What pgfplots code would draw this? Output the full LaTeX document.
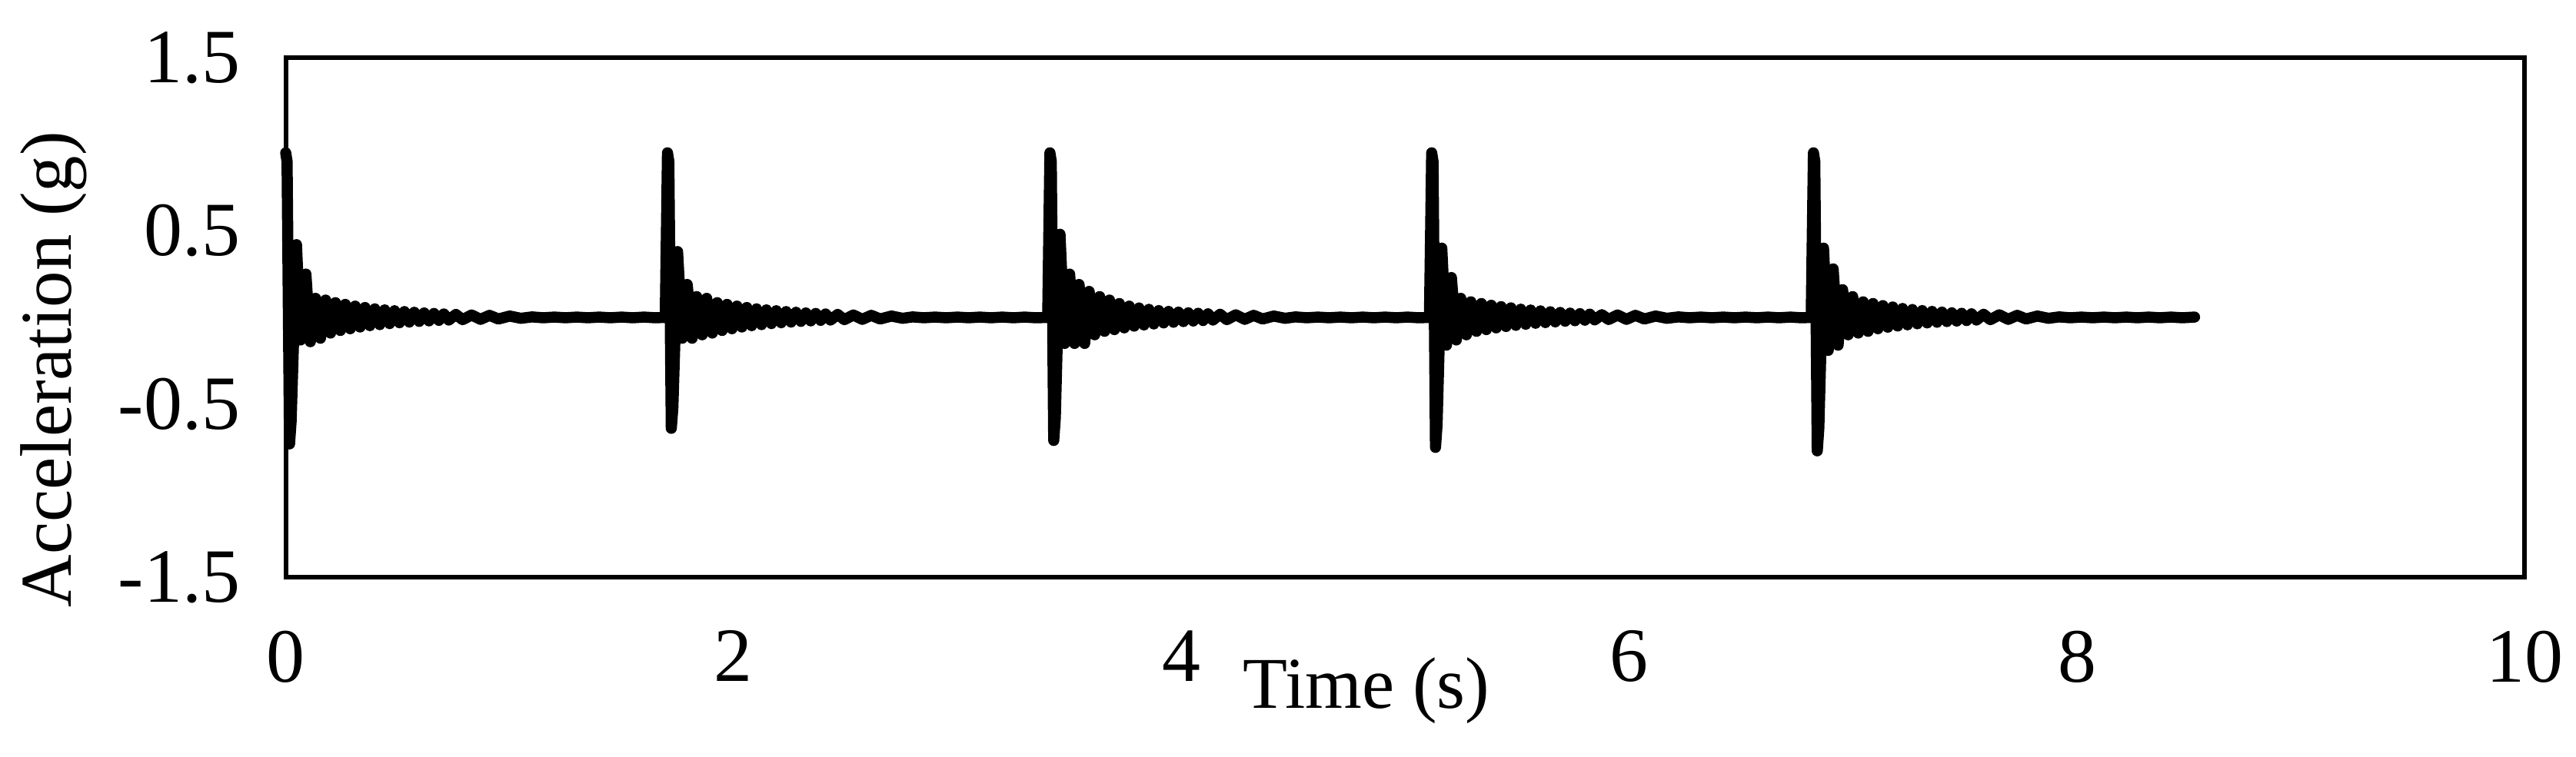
\documentclass[border=0pt]{standalone}
\usepackage{fontspec}
\setmainfont{Liberation Serif}
\usepackage{pgfplots}
\pgfplotsset{compat=1.18}

\begin{document}
\begin{tikzpicture}
\begin{axis}[
    name=ax,
    scale only axis,
    width=583pt, height=135.4pt,
    xmin=0, xmax=10, ymin=-1.5, ymax=1.5,
    xtick={0,2,...,10},
    ytick={-1.5,-0.5,0.5,1.5},
    major tick length=0pt,
    line width=1.2pt,
    clip=false,
    /pgf/number format/assume math mode=true,
    tick label style={font=\fontsize{20}{24}\selectfont},
    yticklabel style={/pgf/number format/fixed, /pgf/number format/fixed zerofill,
        /pgf/number format/precision=1, xshift=-8pt},
    xticklabel style={yshift=-10pt},
    xlabel={Time (s)},
    ylabel={Acceleration (g)},
    label style={font=\fontsize{19}{23}\selectfont},
    xlabel style={at={(axis description cs:0.4827,-0.2526)}, anchor=base},
    ylabel style={at={(axis description cs:-0.1036,0.40)}, anchor=center},
]
% five hammer impacts, decaying response
\addplot[black, line width=2.9pt, line join=round, line cap=round] coordinates {
    (0.000,0.95) (0.006,0.90) (0.017,-0.73) (0.024,-0.60) (0.048,0.42) (0.066,-0.13) (0.090,0.25) (0.110,-0.14) (0.133,0.11) (0.155,-0.12) (0.178,0.10)
    (0.200,-0.09) (0.222,0.085) (0.244,-0.075) (0.266,0.075) (0.288,-0.065) (0.310,0.065) (0.332,-0.055) (0.354,0.057)
    (0.376,-0.048) (0.398,0.05) (0.420,-0.042) (0.442,0.044) (0.464,-0.036) (0.486,0.039) (0.508,-0.031) (0.530,0.034)
    (0.552,-0.027) (0.574,0.03) (0.596,-0.023) (0.618,0.026) (0.640,-0.02) (0.662,0.023) (0.684,-0.017) (0.706,0.02)
    (0.728,-0.015) (0.760,0.017) (0.790,-0.013) (0.830,0.014) (0.870,-0.011) (0.910,0.012) (0.950,-0.009) (1.000,0.008) (1.050,-0.005)
    (1.10,0.003) (1.15,-0.002) (1.20,0.002) (1.25,-0.002) (1.30,0.002) (1.35,-0.002) (1.40,0.002) (1.45,-0.002)
    (1.50,0.002) (1.55,-0.002) (1.60,0.002) (1.65,-0.002) (1.695,0.0)
    (1.705,0.95) (1.711,0.90) (1.722,-0.64) (1.729,-0.52) (1.750,0.38) (1.771,-0.12) (1.793,0.19) (1.815,-0.12) (1.835,0.12) (1.860,-0.10) (1.880,0.11)
    (1.905,-0.09) (1.927,0.085) (1.949,-0.075) (1.971,0.075) (1.993,-0.065) (2.015,0.065) (2.037,-0.055) (2.059,0.057)
    (2.081,-0.048) (2.103,0.05) (2.125,-0.042) (2.147,0.044) (2.169,-0.036) (2.191,0.039) (2.213,-0.031) (2.235,0.034)
    (2.257,-0.027) (2.279,0.03) (2.301,-0.023) (2.323,0.026) (2.345,-0.02) (2.367,0.023) (2.389,-0.017) (2.411,0.02)
    (2.433,-0.015) (2.465,0.017) (2.495,-0.013) (2.535,0.014) (2.575,-0.011) (2.615,0.012) (2.655,-0.009) (2.705,0.008) (2.755,-0.005)
    (2.80,0.003) (2.85,-0.002) (2.90,0.002) (2.95,-0.002) (3.00,0.002) (3.05,-0.002) (3.10,0.002) (3.15,-0.002)
    (3.20,0.002) (3.25,-0.002) (3.30,0.002) (3.35,-0.002) (3.403,0.0)
    (3.413,0.95) (3.419,0.90) (3.430,-0.71) (3.437,-0.58) (3.458,0.48) (3.479,-0.15) (3.501,0.25) (3.523,-0.15) (3.543,0.19) (3.568,-0.15) (3.588,0.15)
    (3.613,-0.10) (3.635,0.12) (3.657,-0.08) (3.679,0.10) (3.701,-0.07) (3.723,0.08) (3.745,-0.06) (3.767,0.065)
    (3.789,-0.05) (3.811,0.055) (3.833,-0.044) (3.855,0.047) (3.877,-0.038) (3.899,0.04) (3.921,-0.032) (3.943,0.035)
    (3.965,-0.028) (3.987,0.031) (4.009,-0.024) (4.031,0.027) (4.053,-0.021) (4.075,0.024) (4.097,-0.018) (4.119,0.021)
    (4.141,-0.015) (4.173,0.018) (4.203,-0.013) (4.243,0.015) (4.283,-0.011) (4.323,0.012) (4.363,-0.009) (4.413,0.008) (4.463,-0.005)
    (4.51,0.003) (4.56,-0.002) (4.61,0.002) (4.66,-0.002) (4.71,0.002) (4.76,-0.002) (4.81,0.002) (4.86,-0.002)
    (4.91,0.002) (4.96,-0.002) (5.01,0.002) (5.06,-0.002) (5.108,0.0)
    (5.118,0.95) (5.124,0.90) (5.135,-0.75) (5.142,-0.62) (5.163,0.40) (5.184,-0.16) (5.206,0.23) (5.228,-0.13) (5.248,0.11) (5.273,-0.10) (5.293,0.09)
    (5.318,-0.08) (5.340,0.08) (5.362,-0.07) (5.384,0.07) (5.406,-0.06) (5.428,0.062) (5.450,-0.052) (5.472,0.055)
    (5.494,-0.046) (5.516,0.048) (5.538,-0.04) (5.560,0.043) (5.582,-0.034) (5.604,0.038) (5.626,-0.03) (5.648,0.033)
    (5.670,-0.026) (5.692,0.029) (5.714,-0.022) (5.736,0.025) (5.758,-0.019) (5.780,0.022) (5.802,-0.016) (5.824,0.019)
    (5.846,-0.014) (5.878,0.016) (5.908,-0.012) (5.948,0.014) (5.988,-0.011) (6.028,0.012) (6.068,-0.009) (6.118,0.008) (6.168,-0.005)
    (6.22,0.003) (6.27,-0.002) (6.32,0.002) (6.37,-0.002) (6.42,0.002) (6.47,-0.002) (6.52,0.002) (6.57,-0.002)
    (6.62,0.002) (6.67,-0.002) (6.72,0.002) (6.77,-0.002) (6.813,0.0)
    (6.823,0.95) (6.829,0.90) (6.840,-0.77) (6.847,-0.64) (6.868,0.40) (6.889,-0.19) (6.911,0.28) (6.933,-0.16) (6.953,0.16) (6.978,-0.10) (6.998,0.12)
    (7.023,-0.09) (7.045,0.09) (7.067,-0.08) (7.089,0.08) (7.111,-0.065) (7.133,0.068) (7.155,-0.056) (7.177,0.06)
    (7.199,-0.049) (7.221,0.052) (7.243,-0.043) (7.265,0.046) (7.287,-0.037) (7.309,0.04) (7.331,-0.032) (7.353,0.035)
    (7.375,-0.028) (7.397,0.031) (7.419,-0.024) (7.441,0.027) (7.463,-0.021) (7.485,0.024) (7.507,-0.018) (7.529,0.021)
    (7.551,-0.015) (7.583,0.018) (7.613,-0.013) (7.653,0.015) (7.693,-0.011) (7.733,0.012) (7.773,-0.009) (7.823,0.008) (7.873,-0.005)
    (7.92,0.003) (7.97,-0.002) (8.02,0.002) (8.07,-0.002) (8.12,0.002) (8.17,-0.002) (8.22,0.002) (8.27,-0.002)
    (8.32,0.002) (8.37,-0.002) (8.42,0.002) (8.47,-0.002) (8.525,0.002)
};
\end{axis}
% page extent of the original figure
\path ([shift={(-74.4pt,-46.8pt)}]ax.south west) rectangle ([shift={(12.6pt,15pt)}]ax.north east);
\end{tikzpicture}
\end{document}
